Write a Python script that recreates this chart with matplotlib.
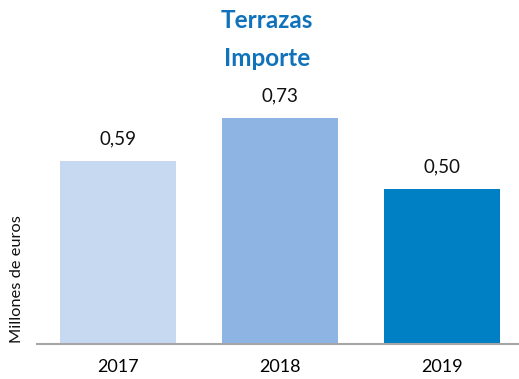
import numpy as np
import matplotlib
matplotlib.use("Agg")
import matplotlib.pyplot as plt

years = ["2017", "2018", "2019"]
importe = [0.59, 0.73, 0.50]
labels = ["0,59", "0,73", "0,50"]
colors = ["#C6D9F1", "#8DB4E2", "#0080C4"]

plt.rcParams['font.family'] = ['Lato', 'DejaVu Sans']

fig = plt.figure(figsize=(5.19, 3.79), dpi=100)
ax = fig.add_axes([37 / 519, 35 / 379, 1 - 37 / 519, 248 / 379])

x = np.arange(len(years))
bars = ax.bar(x, importe, width=0.716, color=colors)
for xi, v, lab in zip(x, importe, labels):
    ax.text(xi, v + 0.043, lab, ha="center", va="bottom", fontsize=13.5, color="#111111")

ax.set_xlim(-0.5, 2.475)
ax.set_ylim(0, 0.8)
ax.set_xticks(x)
ax.set_xticklabels(years, fontsize=13)
ax.tick_params(axis="x", length=0, pad=11)
ax.set_yticks([])
for s in ["top", "right", "left"]:
    ax.spines[s].set_visible(False)
ax.spines["bottom"].set_color("#A6A6A6")
ax.spines["bottom"].set_linewidth(1.5)

fig.text(17 / 519, 1 - 279 / 379, "Millones de euros", rotation=90, ha="center", va="center",
         fontsize=11.8, color="#111111")

fig.text(267 / 519, 1 - 20 / 379, "Terrazas", ha="center", va="center", fontsize=17.5,
         fontweight="bold", color="#0F72BA")
fig.text(267 / 519, 1 - 58 / 379, "Importe", ha="center", va="center", fontsize=17.5,
         fontweight="bold", color="#0F72BA")

fig.savefig("out.png", dpi=100)
